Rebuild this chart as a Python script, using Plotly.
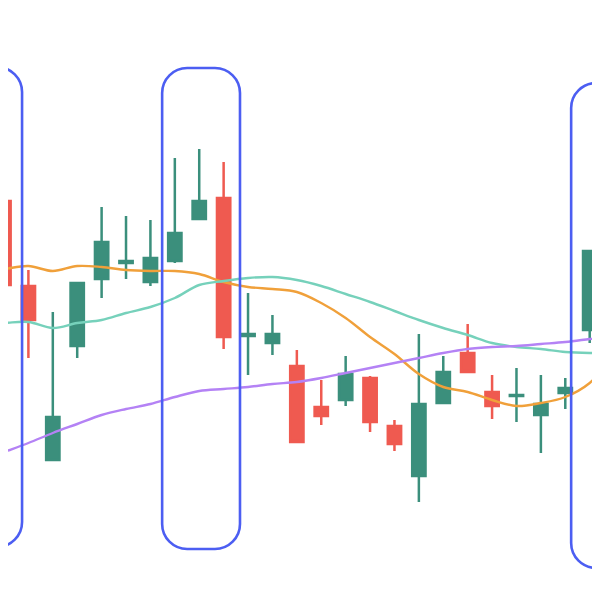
"""Candlestick chart with three moving averages and highlighted zones."""

import plotly.graph_objects as go

# candle index positions
candle_x = list(range(25))
open_ = [99.9, 91.4, 74.0, 85.4, 92.1, 93.7, 91.8, 93.9, 98.1, 100.2, 86.4, 85.7, 83.4,
         79.3, 80.0, 82.2, 77.4, 72.4, 79.7, 84.7, 80.8, 80.4, 78.5, 80.7, 87.0]
high = [103.5, 93.0, 88.8, 91.7, 99.3, 98.4, 98.0, 104.2, 105.1, 103.8, 90.7, 88.5, 85.0,
        82.0, 84.4, 82.4, 78.0, 86.6, 84.4, 87.6, 82.5, 83.2, 82.5, 82.2, 94.9]
low = [91.5, 84.2, 73.9, 84.2, 90.2, 92.1, 91.4, 93.7, 98.1, 85.1, 82.5, 84.5, 75.8,
       77.5, 79.4, 76.8, 74.9, 69.8, 79.7, 82.8, 78.1, 77.8, 74.7, 79.1, 85.7]
close = [91.5, 88.0, 78.3, 91.7, 95.8, 93.9, 94.2, 96.7, 99.9, 86.3, 86.6, 86.6, 75.8,
         78.4, 82.6, 77.8, 75.6, 79.6, 82.8, 82.8, 79.4, 80.5, 79.6, 81.2, 94.9]

# moving averages run one step past each edge
ma_x = list(range(-1, 26))
ma_fast = [92.8, 93.1, 93.4, 92.9, 93.4, 93.3, 93.0, 92.9, 92.9, 92.6, 91.8, 91.3, 91.1, 90.8,
           89.7, 88.2, 86.3, 84.6, 82.6, 81.3, 80.8, 80.0, 79.4, 79.7, 80.3, 81.7, 84.5]
ma_mid = [87.6, 87.7, 87.8, 87.2, 87.7, 88.0, 88.7, 89.3, 90.2, 91.5, 91.9, 92.2, 92.3, 92.0,
          91.4, 90.6, 89.8, 88.9, 88.0, 87.2, 86.5, 85.7, 85.3, 85.1, 84.8, 84.7, 84.7]
ma_slow = [73.9, 74.8, 75.7, 76.7, 77.6, 78.5, 79.1, 79.6, 80.3, 80.9, 81.1, 81.3, 81.6, 81.8,
           82.2, 82.7, 83.2, 83.7, 84.2, 84.7, 85.1, 85.3, 85.4, 85.6, 85.8, 86.1, 86.4]

# highlighted zones: (x start, x end, low price, high price)
zones = [
    (-2.46, 0.74, 65.3, 113.3),
    (6.48, 9.67, 65.1, 113.2),
    (23.24, 26.43, 63.2, 111.7),
]

RED = "#ef5a50"
GREEN = "#3b8f7c"


def rounded_rect_path(x0, x1, y0, y1, rx, ry):
    k = 0.5523
    return (
        f"M {x0 + rx},{y1} L {x1 - rx},{y1} "
        f"C {x1 - rx + k * rx},{y1} {x1},{y1 - ry + k * ry} {x1},{y1 - ry} "
        f"L {x1},{y0 + ry} "
        f"C {x1},{y0 + ry - k * ry} {x1 - rx + k * rx},{y0} {x1 - rx},{y0} "
        f"L {x0 + rx},{y0} "
        f"C {x0 + rx - k * rx},{y0} {x0},{y0 + ry - k * ry} {x0},{y0 + ry} "
        f"L {x0},{y1 - ry} "
        f"C {x0},{y1 - ry + k * ry} {x0 + rx - k * rx},{y1} {x0 + rx},{y1} Z"
    )


fig = go.Figure()

fig.add_trace(
    go.Candlestick(
        x=candle_x,
        open=open_,
        high=high,
        low=low,
        close=close,
        increasing={"line": {"color": GREEN, "width": 2.5}, "fillcolor": GREEN},
        decreasing={"line": {"color": RED, "width": 2.5}, "fillcolor": RED},
        whiskerwidth=0,
    )
)

for values, color in [(ma_fast, "#f0a03a"), (ma_mid, "#76d1bb"), (ma_slow, "#b482f5")]:
    fig.add_trace(
        go.Scatter(
            x=ma_x,
            y=values,
            mode="lines",
            line={"color": color, "width": 2.4, "shape": "spline"},
        )
    )

for x0, x1, y0, y1 in zones:
    fig.add_shape(
        type="path",
        path=rounded_rect_path(x0, x1, y0, y1, 25 / 24.4, 2.5),
        line={"color": "#4c5ef2", "width": 2.6},
        layer="above",
    )

# the page body adds an 8px offset, so the visible window starts 8px in
fig.update_layout(
    width=600,
    height=600,
    margin={"l": 0, "r": 0, "t": 0, "b": 0},
    paper_bgcolor="white",
    plot_bgcolor="white",
    showlegend=False,
    boxgap=0.22,
    xaxis={"visible": False, "range": [0.164, 24.75], "rangeslider": {"visible": False}},
    yaxis={"visible": False, "range": [59.2, 119.2]},
)

fig.write_html("out.html")
